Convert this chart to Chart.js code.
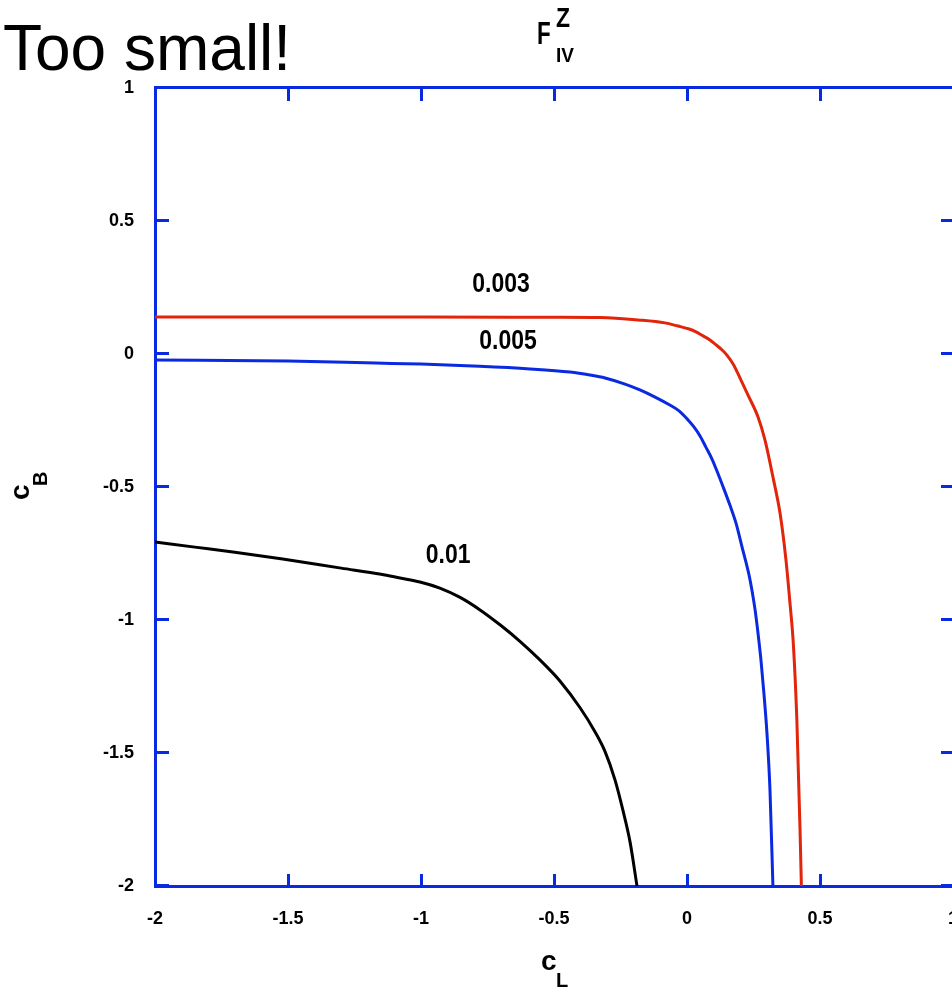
<!DOCTYPE html>
<html><head><meta charset="utf-8">
<script src="https://cdn.jsdelivr.net/npm/chart.js@4.4.1/dist/chart.umd.min.js"></script>
<style>
html,body{margin:0;padding:0;background:#fff;overflow:hidden;width:952px;height:988px}
#wrap{width:960px;height:988px;position:relative}
canvas{display:block}
</style></head>
<body><div id="wrap"><canvas id="c" width="960" height="988"></canvas></div>
<script>
// ---- data ----
const xTicks = [-2, -1.5, -1, -0.5, 0, 0.5, 1];
const xTickLabels = ['-2', '-1.5', '-1', '-0.5', '0', '0.5', '1'];
const yTicks = [-2, -1.5, -1, -0.5, 0, 0.5, 1];
const yTickLabels = ['-2', '-1.5', '-1', '-0.5', '0', '0.5', '1'];

const seriesNames = ['0.003', '0.005', '0.01'];

const redX = [-2, -1.5, -1, -0.5, -0.327, -0.184, -0.083, -0.034, 0.008, 0.034, 0.060, 0.086, 0.105, 0.132, 0.150, 0.175, 0.199, 0.229, 0.267, 0.293, 0.323, 0.350, 0.372, 0.387, 0.400, 0.413, 0.425, 0.430];
const redY = [0.139, 0.139, 0.139, 0.138, 0.137, 0.128, 0.117, 0.105, 0.094, 0.083, 0.068, 0.053, 0.038, 0.015, -0.004, -0.040, -0.090, -0.154, -0.237, -0.323, -0.462, -0.600, -0.774, -0.935, -1.094, -1.376, -1.790, -2.0];

const blueX = [-2, -1.5, -1.17, -1.0, -0.78, -0.59, -0.44, -0.365, -0.308, -0.233, -0.177, -0.120, -0.068, -0.030, 0.004, 0.026, 0.049, 0.071, 0.094, 0.117, 0.139, 0.162, 0.184, 0.207, 0.233, 0.244, 0.256, 0.267, 0.278, 0.289, 0.301, 0.312, 0.323];
const blueY = [-0.023, -0.026, -0.034, -0.038, -0.046, -0.056, -0.068, -0.079, -0.090, -0.113, -0.135, -0.162, -0.190, -0.214, -0.248, -0.274, -0.308, -0.350, -0.395, -0.451, -0.508, -0.570, -0.635, -0.726, -0.830, -0.887, -0.962, -1.05, -1.15, -1.274, -1.432, -1.64, -2.0];

const blackX = [-2, -1.85, -1.7, -1.52, -1.3, -1.15, -1.079, -1.004, -0.929, -0.853, -0.778, -0.703, -0.628, -0.553, -0.477, -0.402, -0.346, -0.308, -0.271, -0.241, -0.214, -0.188];
const blackY = [-0.707, -0.726, -0.745, -0.771, -0.805, -0.828, -0.842, -0.857, -0.880, -0.915, -0.962, -1.018, -1.080, -1.150, -1.230, -1.330, -1.420, -1.495, -1.600, -1.715, -1.835, -2.0];

// contour label anchors (data units)
const labelX = [-0.699, -0.673, -0.898];
const labelY = [0.261, 0.049, -0.756];

// ---- chart ----
const BLUE = 'rgb(10,42,225)';
const RED = 'rgb(225,36,10)';
const pts = (xs, ys) => xs.map((x, i) => ({x: x, y: ys[i]}));
const FONT = '"Liberation Sans", Arial, sans-serif';

const framePlugin = {
  id: 'frame',
  beforeDatasetsDraw(chart) {
    const {ctx, chartArea: a, scales} = chart;
    ctx.save();
    ctx.strokeStyle = BLUE;
    ctx.lineWidth = 3;
    ctx.strokeRect(a.left + 0.5, a.top - 0.5, a.right - a.left, a.bottom - a.top + 1);
    ctx.beginPath();
    xTicks.forEach(v => {
      const px = Math.round(scales.x.getPixelForValue(v)) + 0.5;
      ctx.moveTo(px, a.top); ctx.lineTo(px, a.top + 13);
      ctx.moveTo(px, a.bottom); ctx.lineTo(px, a.bottom - 12);
    });
    yTicks.forEach(v => {
      const py = Math.round(scales.y.getPixelForValue(v)) - 0.5;
      ctx.moveTo(a.left, py); ctx.lineTo(a.left + 14, py);
      ctx.moveTo(a.right, py); ctx.lineTo(a.right - 12, py);
    });
    ctx.stroke();
    ctx.restore();
  },
  afterDraw(chart) {
    const {ctx, scales} = chart;
    ctx.save();
    ctx.fillStyle = '#000';
    ctx.font = '64px ' + FONT;
    ctx.textAlign = 'left'; ctx.textBaseline = 'alphabetic';
    ctx.fillText('Too small!', 3, 70);
    // title F^Z_IV
    ctx.font = 'bold 32px ' + FONT;
    ctx.save(); ctx.translate(537, 44); ctx.scale(0.7, 1); ctx.fillText('F', 0, 0); ctx.restore();
    ctx.font = 'bold 27px ' + FONT;
    ctx.save(); ctx.translate(556, 27); ctx.scale(0.85, 1); ctx.fillText('Z', 0, 0); ctx.restore();
    ctx.font = 'bold 20px ' + FONT;
    ctx.save(); ctx.translate(556, 62); ctx.scale(0.95, 1); ctx.fillText('IV', 0, 0); ctx.restore();
    // x-axis title c_L
    ctx.font = 'bold 28px ' + FONT;
    ctx.fillText('c', 541, 970);
    ctx.font = 'bold 20px ' + FONT;
    ctx.fillText('L', 556, 987);
    // y-axis title c_B (rotated)
    ctx.save();
    ctx.translate(29, 500);
    ctx.rotate(-Math.PI / 2);
    ctx.font = 'bold 28px ' + FONT;
    ctx.fillText('c', 0, 0);
    ctx.font = 'bold 20px ' + FONT;
    ctx.fillText('B', 14, 18);
    ctx.restore();
    // contour labels
    ctx.font = 'bold 25px ' + FONT;
    ctx.textAlign = 'center'; ctx.textBaseline = 'middle';
    seriesNames.forEach((n, i) => {
      ctx.save();
      ctx.translate(scales.x.getPixelForValue(labelX[i]), scales.y.getPixelForValue(labelY[i]));
      ctx.scale(0.92, 1.1);
      ctx.fillText(n, 0, 0);
      ctx.restore();
    });
    ctx.restore();
  }
};

new Chart(document.getElementById('c'), {
  type: 'scatter',
  data: {
    datasets: [
      {label: seriesNames[0], data: pts(redX, redY), borderColor: RED, backgroundColor: RED},
      {label: seriesNames[1], data: pts(blueX, blueY), borderColor: BLUE, backgroundColor: BLUE},
      {label: seriesNames[2], data: pts(blackX, blackY), borderColor: '#000', backgroundColor: '#000'}
    ].map(d => Object.assign(d, {showLine: true, pointRadius: 0, borderWidth: 3, cubicInterpolationMode: 'monotone', fill: false}))
  },
  options: {
    responsive: false,
    animation: false,
    devicePixelRatio: 1,
    layout: {padding: {top: 88, right: 7, left: 0, bottom: 0}},
    plugins: {legend: {display: false}, tooltip: {enabled: false}, title: {display: false}},
    scales: {
      x: {
        type: 'linear', min: -2, max: 1,
        afterBuildTicks: s => { s.ticks = xTicks.map(v => ({value: v})); },
        afterFit: s => { s.height = 102; s.paddingLeft = 0; s.paddingRight = 0; },
        ticks: {
          callback: (v, i) => xTickLabels[i],
          color: '#000', font: {family: FONT, size: 18, weight: 'bold'},
          padding: 22, maxRotation: 0, autoSkip: false
        },
        grid: {display: false, drawTicks: false, tickLength: 0},
        border: {display: false}
      },
      y: {
        type: 'linear', min: -2, max: 1,
        afterBuildTicks: s => { s.ticks = yTicks.map(v => ({value: v})); },
        afterFit: s => { s.width = 155; s.paddingTop = 0; s.paddingBottom = 0; },
        ticks: {
          callback: (v, i) => yTickLabels[i],
          color: '#000', font: {family: FONT, size: 18, weight: 'bold'},
          padding: 21, autoSkip: false
        },
        grid: {display: false, drawTicks: false, tickLength: 0},
        border: {display: false}
      }
    }
  },
  plugins: [framePlugin]
});
</script>
</body></html>
